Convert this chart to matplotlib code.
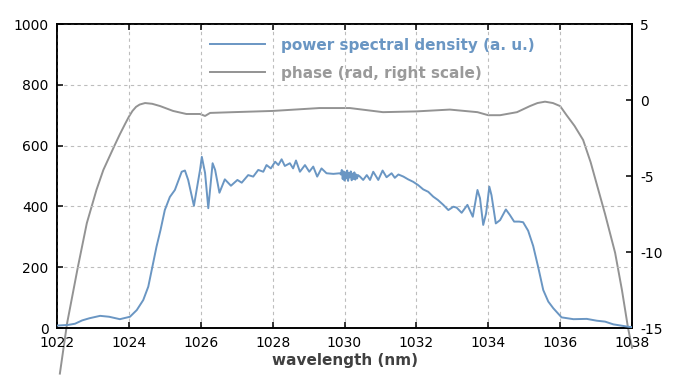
import matplotlib
matplotlib.use('Agg')
from matplotlib import pyplot as plt

# power spectral density (left scale)
psd_wl = [1022.0, 1022.3, 1022.5, 1022.7, 1022.9, 1023.2, 1023.45, 1023.75, 1024.03, 1024.22,
          1024.4, 1024.54, 1024.65, 1024.77, 1024.88, 1025.0, 1025.14, 1025.28, 1025.47, 1025.56,
          1025.65, 1025.81, 1025.98, 1026.03, 1026.12, 1026.21, 1026.33, 1026.4, 1026.52, 1026.67,
          1026.84, 1027.02, 1027.14, 1027.32, 1027.46, 1027.6, 1027.74, 1027.83, 1027.95, 1028.07,
          1028.16, 1028.25, 1028.34, 1028.48, 1028.57, 1028.65, 1028.76, 1028.9, 1029.02, 1029.13,
          1029.24, 1029.36, 1029.5, 1029.69, 1029.87,
          1029.9, 1029.925, 1029.95, 1029.975, 1030.0, 1030.025, 1030.05, 1030.075, 1030.1, 1030.125,
          1030.15, 1030.175, 1030.2, 1030.225, 1030.25, 1030.275, 1030.3, 1030.325, 1030.35, 1030.375,
          1030.43, 1030.52, 1030.62, 1030.71, 1030.8, 1030.94, 1031.06, 1031.17, 1031.31, 1031.4,
          1031.5, 1031.64, 1031.77, 1031.91, 1032.05, 1032.19, 1032.33, 1032.47, 1032.6, 1032.75,
          1032.89, 1033.03, 1033.12, 1033.26, 1033.42, 1033.57, 1033.7, 1033.77, 1033.86, 1033.94,
          1034.03, 1034.09, 1034.21, 1034.33, 1034.49, 1034.6, 1034.72, 1034.86, 1034.97, 1035.11,
          1035.25, 1035.39, 1035.53, 1035.67, 1035.81, 1036.04, 1036.37, 1036.74, 1037.02, 1037.25,
          1037.48, 1037.9, 1038.0]
psd = [8, 10, 14, 25, 32, 40, 37, 29, 37, 59,
       92, 136, 200, 268, 322, 388, 431, 454, 514, 518,
       487, 402, 520, 563, 510, 394, 542, 520, 445, 489,
       468, 487, 478, 503, 498, 520, 514, 536, 525, 547,
       536, 555, 533, 542, 525, 551, 514, 536, 514, 531,
       498, 525, 509, 507, 509,
       505, 520, 490, 515, 485, 512, 492, 518, 484, 510,
       495, 515, 486, 508, 490, 512, 488, 505, 492, 503,
       498, 487, 503, 487, 514, 487, 518, 496, 509, 494,
       505, 498, 489, 481, 470, 456, 448, 432, 421, 405,
       388, 399, 396, 379, 405, 366, 454, 427, 339, 377,
       465, 437, 344, 355, 390, 372, 350, 350, 348, 320,
       270, 200, 125, 87, 65, 35, 29, 30, 24, 21,
       12, 4, 3]

# spectral phase in rad (right scale)
ph_wl = [1022.08, 1022.28, 1022.58, 1022.83, 1023.1, 1023.29, 1023.6, 1023.75, 1023.9, 1024.0,
         1024.1, 1024.2, 1024.3, 1024.45, 1024.65, 1024.87, 1025.23, 1025.6, 1025.98, 1026.12,
         1026.26, 1026.9, 1028.0, 1029.3, 1030.15, 1031.07, 1032.0, 1032.93, 1033.7, 1034.0,
         1034.33, 1034.8, 1035.16, 1035.37, 1035.58, 1035.8, 1036.0, 1036.18, 1036.4, 1036.64,
         1036.85, 1037.05, 1037.25, 1037.53, 1037.72, 1037.89, 1038.0]
phase = [-18.0, -14.7, -11.0, -8.1, -5.9, -4.6, -3.0, -2.25, -1.55, -1.1,
         -0.72, -0.45, -0.3, -0.2, -0.25, -0.4, -0.72, -0.92, -0.92, -1.05,
         -0.85, -0.8, -0.72, -0.53, -0.53, -0.8, -0.75, -0.63, -0.8, -1.0,
         -1.0, -0.8, -0.4, -0.2, -0.11, -0.2, -0.4, -1.0, -1.7, -2.63,
         -4.1, -5.8, -7.5, -10.05, -12.5, -15.0, -16.3]

blue = '#6a96c3'
gray = '#939393'

plt.rcParams['font.family'] = 'DejaVu Sans'
plt.rcParams['axes.unicode_minus'] = False

fig = plt.figure(figsize=(7, 3.75), dpi=100)
ax = fig.add_axes([57 / 700, 1 - 328 / 375, 575 / 700, 304 / 375])
ax2 = ax.twinx()

l1, = ax.plot(psd_wl, psd, color=blue, lw=1.4, label='power spectral density (a. u.)', zorder=3)
l2, = ax2.plot(ph_wl, phase, color=gray, lw=1.4, label='phase (rad, right scale)', clip_on=False)

ax.set_xlim(1022, 1038)
ax.set_ylim(0, 1000)
ax2.set_ylim(-15, 5)
ax.set_xticks(range(1022, 1039, 2))
ax.set_yticks(range(0, 1001, 200))
ax2.set_yticks([5, 0, -5, -10, -15])

ax.grid(True, color='#bdbdbd', linestyle=(0, (3, 3)), linewidth=0.8)
ax.set_axisbelow(True)

for a in (ax, ax2):
    for s in a.spines.values():
        s.set_linewidth(1.2)
        s.set_color('black')
ax.tick_params(direction='in', length=4, width=1.1, labelsize=10, top=True, pad=6)
ax.tick_params(axis='y', pad=6)
ax2.tick_params(direction='in', length=4, width=1.1, labelsize=10, pad=6)

ax.set_xlabel('wavelength (nm)', fontsize=11, fontweight='bold', color='#404040', labelpad=2)

leg = ax.legend(handles=[l1, l2], loc='upper left', bbox_to_anchor=(0.243, 1.0), frameon=False,
                fontsize=11, handlelength=3.6, handletextpad=1.0, labelspacing=0.85)
for txt, c in zip(leg.get_texts(), (blue, '#9a9a9a')):
    txt.set_color(c)
    txt.set_fontweight('bold')

ax.set_zorder(ax2.get_zorder() + 1)
ax.patch.set_visible(False)

fig.savefig('out.png', dpi=100)
